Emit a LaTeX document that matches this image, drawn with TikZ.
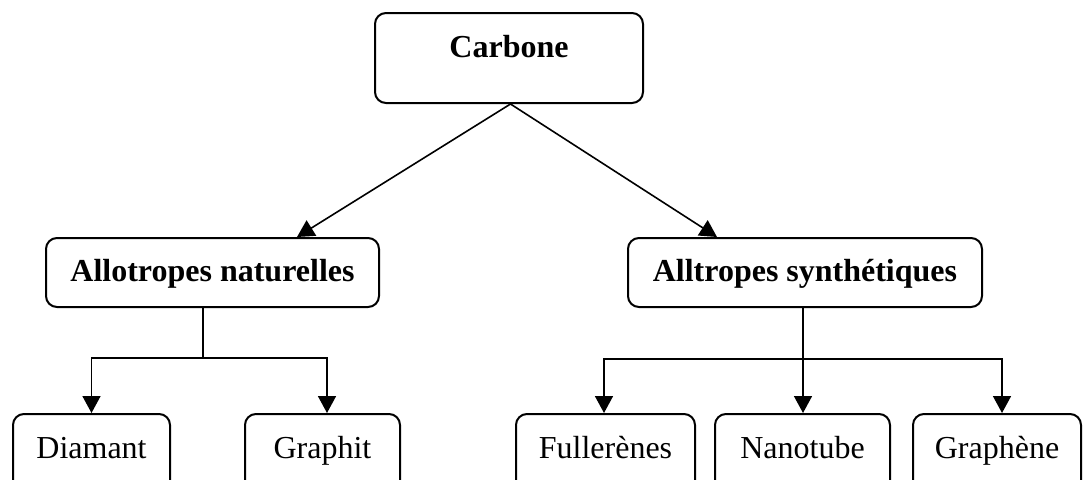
\documentclass[tikz,border=0pt]{standalone}
\usepackage{fontspec}
\setmainfont{Liberation Serif}
\usetikzlibrary{arrows.meta}
\begin{document}
\begin{tikzpicture}[x=1pt,y=-1pt,
  box/.style={draw=black, line width=2pt, rounded corners=11pt, inner sep=0pt,
    font=\fontsize{32}{38}\selectfont},
  topbox/.style={box, font=\fontsize{32}{38}\selectfont\bfseries},
  leafbox/.style={box, text height=44pt, text depth=40pt},
  conn/.style={line width=1.6pt},
  arr/.style={conn, -{Triangle[length=17pt,width=18pt]}}
]
\useasboundingbox (0,0) rectangle (1083,479);
\clip (0,0) rectangle (1083,479);
% top
\node[topbox, anchor=north, minimum width=268pt, text height=44pt, text depth=46pt] (carb) at (509,12) {Carbone};
% middle
\node[topbox, anchor=north, minimum width=333pt, text height=43pt, text depth=26pt] (nat) at (212.5,237) {Allotropes naturelles};
\node[topbox, anchor=north, minimum width=354pt, text height=43pt, text depth=26pt] (syn) at (805,237) {Alltropes synthétiques};
% leaves
\node[leafbox, anchor=north, minimum width=157pt] (diam) at (91.5,413) {Diamant};
\node[leafbox, anchor=north, minimum width=155pt] (graphit) at (322.5,413) {Graphit};
\node[leafbox, anchor=north, minimum width=179pt] (full) at (605.5,413) {Fullerènes};
\node[leafbox, anchor=north, minimum width=175pt] (nano) at (802.5,413) {Nanotube};
\node[leafbox, anchor=north, minimum width=168pt] (graphene) at (997,413) {Graphène};
% connectors from Carbone
\draw[arr] ([xshift=1.5pt]carb.south) -- ([xshift=84.5pt]nat.north);
\draw[arr] ([xshift=1.5pt]carb.south) -- ([xshift=-88pt]syn.north);
% natural branch
\coordinate (j1) at (203,358);
\draw[conn] ([xshift=-9.5pt]nat.south) -- (j1);
\draw[arr] (j1) -| (diam.north);
\draw[arr] (j1) -| ([xshift=4.5pt]graphit.north);
% synthetic branch
\coordinate (j2) at (803,359);
\draw[conn] ([xshift=-2pt]syn.south) -- (j2);
\draw[arr] (j2) -| ([xshift=-1.5pt]full.north);
\draw[arr] (j2) -- (j2 |- nano.north);
\draw[arr] (j2) -| ([xshift=5pt]graphene.north);
\end{tikzpicture}
\end{document}
